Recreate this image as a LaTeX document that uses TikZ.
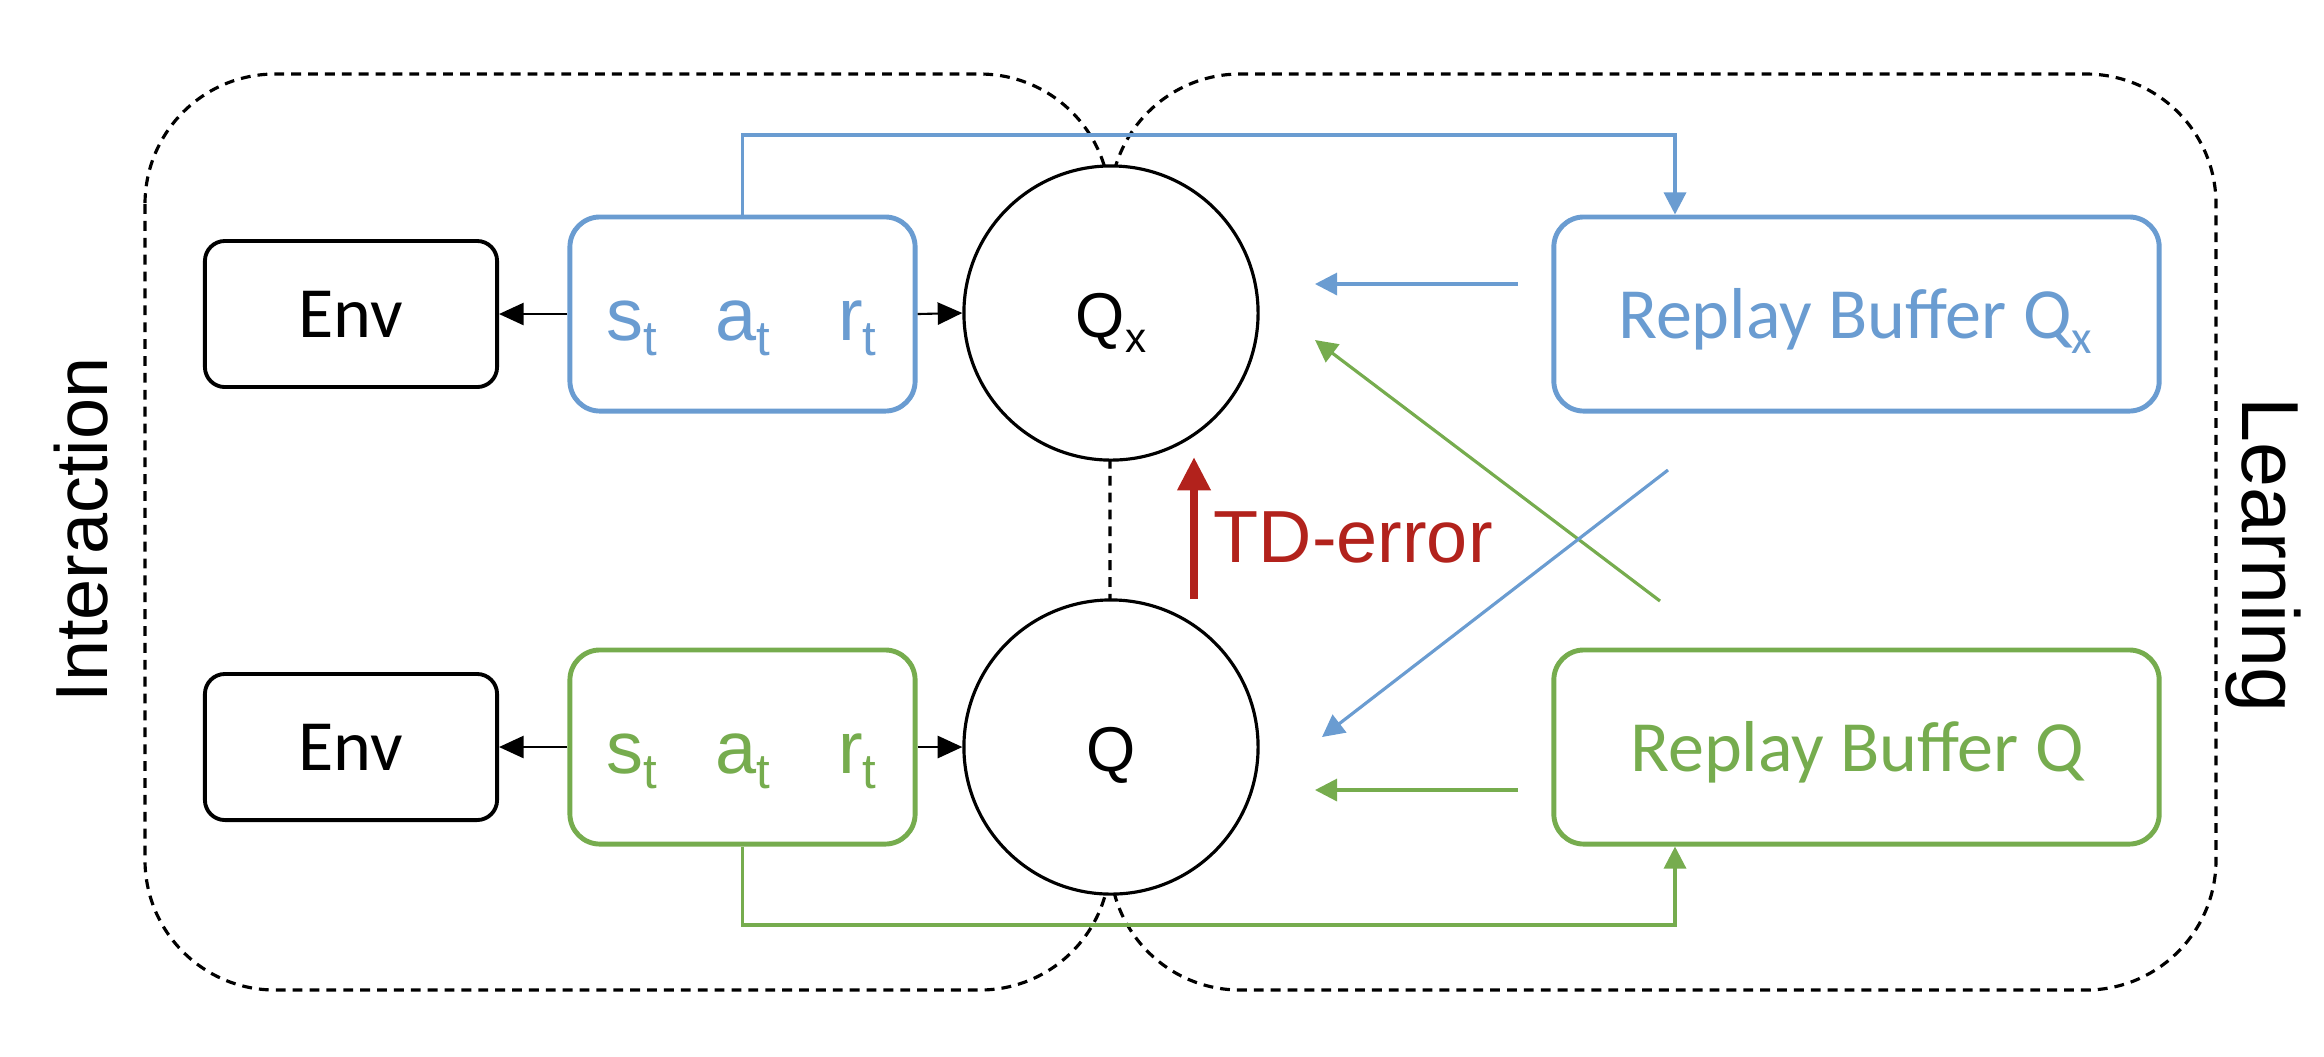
\documentclass[tikz,border=0pt]{standalone}
\usepackage{fontspec}
\setmainfont{Liberation Sans}
\newfontfamily\calib{Carlito}
\usetikzlibrary{arrows.meta}
\definecolor{qblue}{RGB}{106,156,209}
\definecolor{qgreen}{RGB}{118,172,78}
\definecolor{tdred}{RGB}{178,34,28}
\newcommand{\lowsub}[2]{\raisebox{-0.15cm}{\fontsize{#1}{#1}\selectfont #2}}
\begin{document}
\begin{tikzpicture}[x=0.01cm,y=-0.01cm,
  container/.style={draw=black, line width=0.9pt, dash pattern=on 2.8pt off 2pt, rounded corners=1.3cm},
  envbox/.style={draw=black, line width=1.1pt, rounded corners=0.2cm, minimum width=2.92cm, minimum height=1.46cm, inner sep=0pt, font=\calib\fontsize{20.5pt}{24pt}\selectfont},
  tbox/.style={line width=1.4pt, rounded corners=0.3cm, minimum width=3.45cm, minimum height=1.94cm, inner sep=0pt},
  rbox/.style={line width=1.4pt, rounded corners=0.3cm, minimum width=6.05cm, minimum height=1.94cm, inner sep=0pt},
  qcirc/.style={circle, draw=black, fill=white, line width=0.9pt, minimum size=2.94cm, inner sep=0pt},
  txt/.style={inner sep=0pt, anchor=base},
  conn/.style={line width=0.6pt, -{Triangle[length=7pt,width=6.3pt]}},
  cconn/.style={line width=0.9pt, -{Triangle[length=6.3pt,width=6.3pt]}}
]
\useasboundingbox (0,0) rectangle (2324,1056);

% containers
\draw[container] (145,74) rectangle (1110,990);
\draw[container] (1110,204) -- (1110,74) -- (2216,74) -- (2216,990) -- (1110,990) -- (1110,860);

% circles
\node[qcirc] (qx) at (1111,313) {};
\node[qcirc] (q) at (1111,747) {};
\node[txt, font=\fontsize{18pt}{21pt}\selectfont] (qxt) at (1111,337) {Q\lowsub{12pt}{x}};
\node[txt, font=\fontsize{18pt}{21pt}\selectfont] (qt) at (1111,771) {Q};

% env boxes
\node[envbox] (env1) at (351,314) {Env};
\node[envbox] (env2) at (351,747) {Env};

% transition boxes
\node[tbox, draw=qblue] (tr1) at (742.5,314) {};
\node[tbox, draw=qgreen] (tr2) at (742.5,747) {};
\node[inner sep=0pt, anchor=base west, text=qblue, font=\fontsize{21pt}{25pt}\selectfont] (tr1t) at (606,340)
  {s\lowsub{14pt}{t}\hspace{0.58cm}a\lowsub{14pt}{t}\hspace{0.68cm}r\lowsub{14pt}{t}};
\node[inner sep=0pt, anchor=base west, text=qgreen, font=\fontsize{21pt}{25pt}\selectfont] (tr2t) at (606,773)
  {s\lowsub{14pt}{t}\hspace{0.58cm}a\lowsub{14pt}{t}\hspace{0.68cm}r\lowsub{14pt}{t}};

% replay buffers
\node[rbox, draw=qblue] (rb1) at (1856.5,314) {};
\node[rbox, draw=qgreen] (rb2) at (1856.5,747) {};
\node[txt, text=qblue, font=\calib\fontsize{20.5pt}{24pt}\selectfont] (rb1t) at (1855,338) {Replay Buffer Q\lowsub{13.4pt}{x}};
\node[txt, text=qgreen, font=\calib\fontsize{20.5pt}{24pt}\selectfont] (rb2t) at (1857,771) {Replay Buffer Q};

% black arrows
\draw[conn] (tr1.west) -- (env1.east);
\draw[conn] (tr2.west) -- (env2.east);
\draw[conn] (tr1.east) -- (qx.west);
\draw[conn] (tr2.east) -- (q.west);

% storage lines
\draw[cconn, qblue] (tr1.north) |- (1675,135) -- (rb1.north -| 1675,0);
\draw[cconn, qgreen] (tr2.south) |- (1675,925) -- (rb2.south -| 1675,0);

% sampling arrows
\coordinate (b1s) at (1518,284);
\coordinate (b1e) at (1315,284);
\coordinate (g1s) at (1518,790);
\coordinate (g1e) at (1315,790);
\coordinate (gds) at (1660,601);
\coordinate (gde) at (1315,340);
\coordinate (bds) at (1668,470);
\coordinate (bde) at (1322,737);
\draw[cconn, qblue] (b1s) -- (b1e);
\draw[cconn, qgreen] (g1s) -- (g1e);
\draw[cconn, qgreen] (gds) -- (gde);
\draw[cconn, qblue] (bds) -- (bde);

% TD error
\coordinate (tdb) at (1194,599);
\coordinate (tdt) at (1194,457);
\draw[tdred, line width=2.3pt, -{Triangle[length=9.5pt,width=9pt]}] (tdb) -- (tdt);
\node[inner sep=0pt, anchor=base west, text=tdred, font=\fontsize{21pt}{25pt}\selectfont] (td) at (1213,562) {TD-error};

% side labels
\node[rotate=90, inner sep=0pt, font=\fontsize{21pt}{25pt}\selectfont] (inter) at (81,530) {Interaction};
\node[rotate=-90, inner sep=0pt, font=\fontsize{23pt}{27pt}\selectfont] (learn) at (2263,555) {Learning};
\end{tikzpicture}
\end{document}
